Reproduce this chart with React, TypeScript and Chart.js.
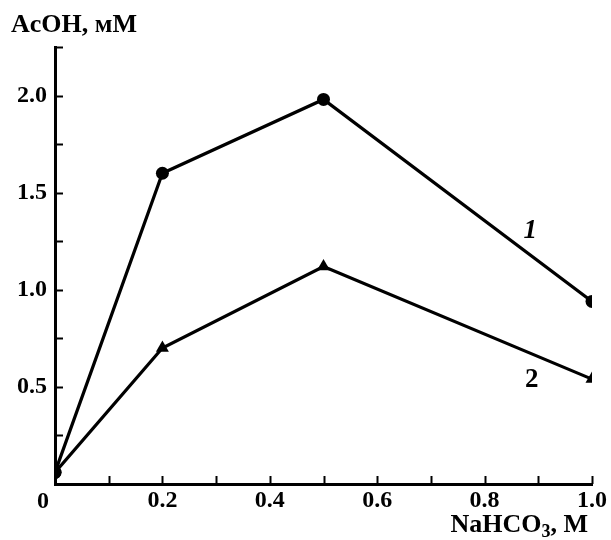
import React, { useEffect, useRef } from "react";
import { Chart, registerables } from "chart.js";

Chart.register(...registerables);

const xValues = [0, 0.2, 0.5, 1.0];
const series1 = [0.06, 1.6, 1.98, 0.94];
const series2 = [0.06, 0.7, 1.12, 0.54];
const xTickLabels = ["0", "0.2", "0.4", "0.6", "0.8", "1.0"];
const yTickLabels = ["0.5", "1.0", "1.5", "2.0"];
const yTitle = "AcOH, мM";
const xTitle = "NaHCO";
const seriesNames = ["1", "2"];

const FONT = '"Liberation Serif", "Times New Roman", serif';

const overlay = {
  id: "overlay",
  afterDraw(chart: any) {
    const { ctx, scales } = chart;
    const xs = scales.x;
    const ys = scales.y;
    const area = chart.chartArea;
    ctx.save();
    ctx.strokeStyle = "#000";
    ctx.lineWidth = 2;
    // inward ticks
    xs.ticks.forEach((t: any) => {
      if (Math.abs(t.value) < 1e-6) return;
      const px = Math.round(xs.getPixelForValue(t.value)) + 0.5;
      ctx.beginPath();
      ctx.moveTo(px, area.bottom);
      ctx.lineTo(px, area.bottom - 8);
      ctx.stroke();
    });
    ys.ticks.forEach((t: any) => {
      if (Math.abs(t.value) < 1e-6) return;
      const py = Math.round(ys.getPixelForValue(t.value)) + 0.5;
      ctx.beginPath();
      ctx.moveTo(area.left, py);
      ctx.lineTo(area.left + 8, py);
      ctx.stroke();
    });
    ctx.fillStyle = "#000";
    // "0" label, offset to the left of the origin
    ctx.font = `bold 24px ${FONT}`;
    ctx.textAlign = "center";
    ctx.textBaseline = "middle";
    ctx.fillText(xTickLabels[0], xs.getPixelForValue(0) - 12, area.bottom + 18);
    // y title
    ctx.textAlign = "left";
    ctx.textBaseline = "alphabetic";
    ctx.font = `bold 26px ${FONT}`;
    ctx.fillText(yTitle, 11, 32);
    // x title with subscript
    ctx.textAlign = "right";
    ctx.font = `bold 26px ${FONT}`;
    const tail = ", M";
    const wTail = ctx.measureText(tail).width;
    const xr = 588;
    const base = 532;
    ctx.fillText(tail, xr, base);
    ctx.font = `bold 18px ${FONT}`;
    const wSub = ctx.measureText("3").width;
    ctx.fillText("3", xr - wTail, base + 5);
    ctx.font = `bold 26px ${FONT}`;
    ctx.fillText(xTitle, xr - wTail - wSub, base);
    // series labels
    ctx.textAlign = "center";
    ctx.textBaseline = "middle";
    ctx.font = `italic bold 27px ${FONT}`;
    ctx.fillText(seriesNames[0], xs.getPixelForValue(0.885), ys.getPixelForValue(1.3));
    ctx.font = `bold 27px ${FONT}`;
    ctx.fillText(seriesNames[1], xs.getPixelForValue(0.888), ys.getPixelForValue(0.535));
    ctx.restore();
  },
};

export default function App() {
  const ref = useRef<HTMLCanvasElement | null>(null);
  useEffect(() => {
    if (!ref.current) return;
    const chart = new Chart(ref.current, {
      type: "line",
      data: {
        datasets: [
          {
            label: seriesNames[1],
            data: xValues.map((x, i) => ({ x, y: series2[i] })),
            borderColor: "#000",
            backgroundColor: "#000",
            borderWidth: 3.2,
            pointStyle: ["circle", "triangle", "triangle", "triangle"],
            pointRadius: [6.5, 7.5, 7.5, 7.5],
            pointBorderWidth: 0,
            tension: 0,
          },
          {
            label: seriesNames[0],
            data: xValues.map((x, i) => ({ x, y: series1[i] })),
            borderColor: "#000",
            backgroundColor: "#000",
            borderWidth: 3.2,
            pointStyle: "circle",
            pointRadius: 6.5,
            pointBorderWidth: 0,
            tension: 0,
          },
        ],
      },
      options: {
        responsive: false,
        animation: false,
        layout: { padding: { top: 47, right: 19, left: 0, bottom: 0 } },
        plugins: { legend: { display: false }, tooltip: { enabled: false } },
        scales: {
          x: {
            type: "linear",
            min: 0,
            max: 1,
            grid: { display: false, drawTicks: false },
            border: { display: true, color: "#000", width: 3 },
            ticks: {
              stepSize: 0.1,
              autoSkip: false,
              maxRotation: 0,
              padding: 2,
              color: "#000",
              font: { family: FONT, size: 24, weight: "bold" },
              callback: (v: any) => {
                const n = Math.round(Number(v) * 10);
                if (n === 0 || n % 2 !== 0) return "";
                return xTickLabels[n / 2];
              },
            },
            afterFit: (s: any) => {
              s.height = 56;
            },
          },
          y: {
            type: "linear",
            min: 0,
            max: 2.25,
            grid: { display: false, drawTicks: false },
            border: { display: true, color: "#000", width: 3 },
            ticks: {
              stepSize: 0.25,
              autoSkip: false,
              padding: 8,
              color: "#000",
              font: { family: FONT, size: 24, weight: "bold" },
              callback: (v: any) => {
                const n = Math.round(Number(v) * 4);
                if (n === 0 || n % 2 !== 0) return "";
                return yTickLabels[n / 2 - 1] ?? "";
              },
            },
            afterFit: (s: any) => {
              s.width = 55;
            },
          },
        },
      },
      plugins: [overlay],
    });
    return () => chart.destroy();
  }, []);
  return (
    <div style={{ position: "fixed", left: 0, top: 0, width: 611, height: 540, background: "#fff" }}>
      <canvas ref={ref} width={611} height={540} style={{ width: 611, height: 540 }} />
    </div>
  );
}
